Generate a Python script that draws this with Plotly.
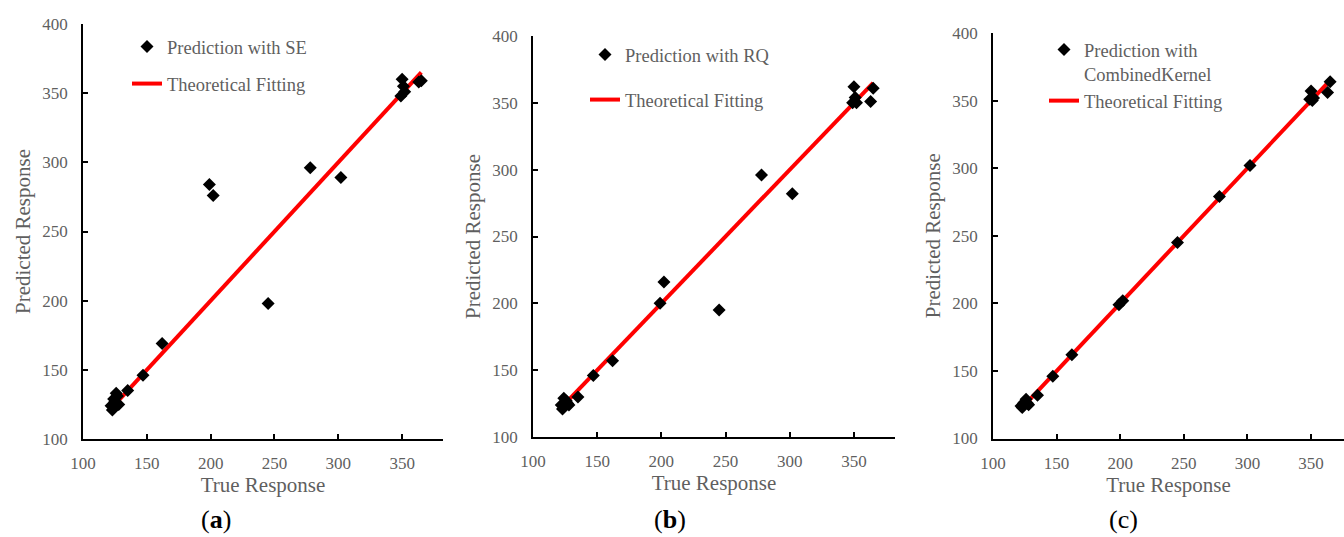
import plotly.graph_objects as go

# ---- data ----
true_response = [122, 123, 124, 125, 126, 127, 128, 135, 147, 162, 199, 202, 245, 278, 302, 349, 350, 351, 352, 363, 365]
pred_se = [124, 121, 129, 127, 133, 131, 125, 135, 146, 169, 284, 276, 198, 296, 289, 348, 360, 355, 351, 358, 359]
pred_rq = [124, 121, 129, 126, 127, 125, 124, 130, 146, 157, 200, 216, 195, 296, 282, 350, 362, 354, 350, 351, 361]
pred_ck = [124, 123, 126, 127, 129, 126, 125, 132, 146, 162, 199, 202, 245, 279, 302, 351, 357, 350, 352, 356, 364]

series_names = ["Prediction with SE", "Prediction with RQ", "Prediction with<br>CombinedKernel"]
fit_name = "Theoretical Fitting"
panel_labels = ["(<b>a</b>)", "(<b>b</b>)", "(c)"]
x_ticks = [100, 150, 200, 250, 300, 350]
y_ticks = [100, 150, 200, 250, 300, 350, 400]

W, H = 1344, 537
FONT = "'Liberation Serif', 'Times New Roman', serif"
GRAY = "#5f5f5f"

# pixel geometry of each panel: (x_left, x_right, y_bottom, y_top, xmax)
geom = [
    (83, 443, 439, 24, 382),
    (533, 895, 437, 36, 382),
    (993, 1344, 438.5, 33, 375.9),
]
# legend (left px, top px, group gap px)
legend_pos = [(127, 28, 10), (585, 36, 18), (1044, 31, 0)]

fig = go.Figure()
preds = [pred_se, pred_rq, pred_ck]
fit_x = [min(true_response), max(true_response)]

for i, (pred, name) in enumerate(zip(preds, series_names)):
    sfx = "" if i == 0 else str(i + 1)
    lg = "legend" + sfx
    fig.add_trace(go.Scatter(
        x=fit_x, y=fit_x, mode="lines", name=fit_name,
        line=dict(color="#ff0000", width=4),
        xaxis="x" + sfx, yaxis="y" + sfx, legend=lg,
        legendgroup="fit" + sfx, legendrank=2,
    ))
    fig.add_trace(go.Scatter(
        x=true_response, y=pred, mode="markers", name=name,
        marker=dict(symbol="diamond", size=10, color="black"),
        xaxis="x" + sfx, yaxis="y" + sfx, legend=lg,
        legendgroup="pred" + sfx, legendrank=1,
    ))

layout = dict(
    template="none",
    width=W, height=H,
    margin=dict(l=0, r=0, t=0, b=0, pad=0),
    paper_bgcolor="white", plot_bgcolor="white",
    font=dict(family=FONT, color=GRAY),
    annotations=[],
)

label_x = [216, 670, 1123]
for i, (xl, xr, yb, yt, xmax) in enumerate(geom):
    sfx = "" if i == 0 else str(i + 1)
    common = dict(
        showline=True, linecolor="black", linewidth=1.5,
        ticks="inside", ticklen=5, tickwidth=1.5, tickcolor="black",
        showgrid=False, zeroline=False, automargin=False,
        tickfont=dict(family=FONT, size=17, color=GRAY),
    )
    layout["xaxis" + sfx] = dict(
        common, domain=[xl / W, xr / W], range=[100, xmax],
        tickvals=x_ticks, anchor="y" + sfx, ticklabelstandoff=8,
        title=dict(text="True Response", font=dict(family=FONT, size=21, color=GRAY), standoff=2),
    )
    layout["yaxis" + sfx] = dict(
        common, domain=[1 - yb / H, 1 - yt / H], range=[100, 400],
        tickvals=y_ticks, anchor="x" + sfx, ticklabelstandoff=10,
        title=dict(text="Predicted Response", font=dict(family=FONT, size=21, color=GRAY), standoff=6),
    )
    lx, ly, gap = legend_pos[i]
    layout["legend" + sfx] = dict(
        x=lx / W, y=1 - ly / H, xanchor="left", yanchor="top",
        bgcolor="rgba(0,0,0,0)", borderwidth=0,
        font=dict(family=FONT, size=18.5, color=GRAY),
        tracegroupgap=gap, valign="top",
    )
    layout["annotations"].append(dict(
        text=panel_labels[i], x=label_x[i] / W, y=1 - 519 / H,
        xref="paper", yref="paper", showarrow=False,
        font=dict(family=FONT, size=26, color="black"),
        xanchor="center", yanchor="middle",
    ))

fig.update_layout(**layout)
fig.write_html("out.html")
